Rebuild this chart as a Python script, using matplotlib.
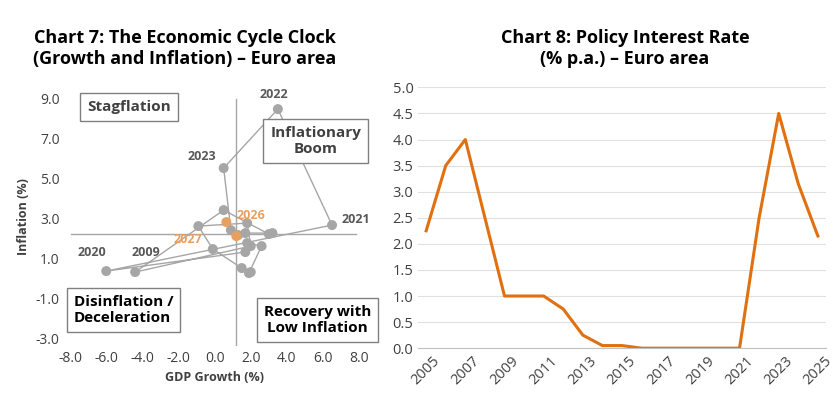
import matplotlib.pyplot as plt

plt.rcParams['font.family'] = ['Open Sans', 'DejaVu Sans']

# Economic cycle clock (GDP growth vs inflation), 2005-2027
years = list(range(2005, 2028))
gdp = [1.7, 3.2, 3.0, 0.5, -4.4, 2.0, 1.8, -0.9, -0.1, 1.5, 2.0, 1.9, 2.6, 1.8, 1.7,
       -6.0, 6.5, 3.5, 0.5, 0.9, 1.3, 0.65, 1.2]
infl = [2.25, 2.25, 2.2, 3.4, 0.3, 1.6, 2.75, 2.6, 1.45, 0.5, 0.3, 0.25, 1.6, 1.75, 1.3,
        0.35, 2.65, 8.45, 5.5, 2.4, 2.15, 2.8, 2.1]
labelled = {2009: (-4.6, 1.1), 2020: (-7.6, 1.1), 2021: (7.0, 2.75), 2022: (2.5, 9.0),
            2023: (-1.5, 5.9), 2026: (1.2, 2.95), 2027: (-2.3, 1.75)}

# Policy interest rate
rate_years = list(range(2005, 2026))
rate = [2.25, 3.5, 4.0, 2.5, 1.0, 1.0, 1.0, 0.75, 0.25, 0.05, 0.05, 0.0, 0.0, 0.0, 0.0,
        0.0, 0.0, 2.5, 4.5, 3.15, 2.15]

grey = '#a6a6a6'
orange = '#e8a060'
tick_col = '#404040'

fig = plt.figure(figsize=(8.4, 4.2), dpi=100)
ax1 = fig.add_axes([0.077, 0.176, 0.357, 0.619])
ax2 = fig.add_axes([0.498, 0.171, 0.485, 0.621])

ax1.axvline(1.2, color=grey, lw=1, ymax=0.95)
ax1.axhline(2.2, color=grey, lw=1, xmin=0.02, xmax=0.97)
ax1.plot(gdp, infl, color=grey, lw=1, zorder=2)
cols = [orange if y >= 2026 else grey for y in years]
ax1.scatter(gdp, infl, s=38, c=cols, zorder=3)
for y, (tx, ty) in labelled.items():
    ax1.text(tx, ty, str(y), fontsize=9, fontweight='bold',
             color=orange if y >= 2026 else '#595959')

box = dict(boxstyle='square,pad=0.45', fc='white', ec='#808080', lw=1)
ax1.text(-4.75, 8.55, 'Stagflation', fontsize=11, fontweight='bold', ha='center', va='center',
         color='#404040', bbox=box)
ax1.text(5.6, 6.85, 'Inflationary\nBoom', fontsize=11, fontweight='bold', ha='center', va='center',
         color='#404040', bbox=box, zorder=4)
ax1.text(-7.8, -1.6, 'Disinflation /\nDeceleration', fontsize=11, fontweight='bold', ha='left',
         va='center', bbox=box)
ax1.text(5.7, -2.1, 'Recovery with\nLow Inflation', fontsize=11, fontweight='bold', ha='center',
         va='center', bbox=box)

ax1.set_xlim(-8.3, 8.3)
ax1.set_ylim(-3.4, 9.6)
ax1.set_xticks(range(-8, 9, 2))
ax1.set_xticklabels([f'{v:.1f}' for v in range(-8, 9, 2)])
ax1.set_yticks(range(-3, 10, 2))
ax1.set_yticklabels([f'{v:.1f}' for v in range(-3, 10, 2)])
ax1.tick_params(length=0, labelsize=10, colors=tick_col)
for s in ax1.spines.values():
    s.set_visible(False)
ax1.set_xlabel('GDP Growth (%)', fontsize=9, fontweight='bold', color='#404040')
ax1.set_ylabel('Inflation (%)', fontsize=9, fontweight='bold', color='#404040')
fig.text(0.22, 0.885, 'Chart 7: The Economic Cycle Clock\n(Growth and Inflation) – Euro area',
         fontsize=13, fontweight='bold', ha='center', va='center')

ax2.plot(rate_years, rate, color='#e07010', lw=2.2)
ax2.set_xlim(2004.6, 2025.4)
ax2.set_ylim(0, 5.0)
ax2.set_yticks([i * 0.5 for i in range(11)])
ax2.set_yticklabels([f'{i * 0.5:.1f}' for i in range(11)])
ax2.set_xticks(range(2005, 2026, 2))
ax2.tick_params(axis='x', rotation=45, length=0, labelsize=10.5, colors=tick_col)
ax2.tick_params(axis='y', length=0, labelsize=10.5, colors=tick_col)
ax2.grid(axis='y', color='#e0e0e0', lw=0.8)
for s in ax2.spines.values():
    s.set_visible(False)
ax2.spines['bottom'].set_visible(True)
ax2.spines['bottom'].set_color('#c0c0c0')
fig.text(0.744, 0.885, 'Chart 8: Policy Interest Rate\n(% p.a.) – Euro area',
         fontsize=13, fontweight='bold', ha='center', va='center')

plt.savefig('out.png', dpi=100)
